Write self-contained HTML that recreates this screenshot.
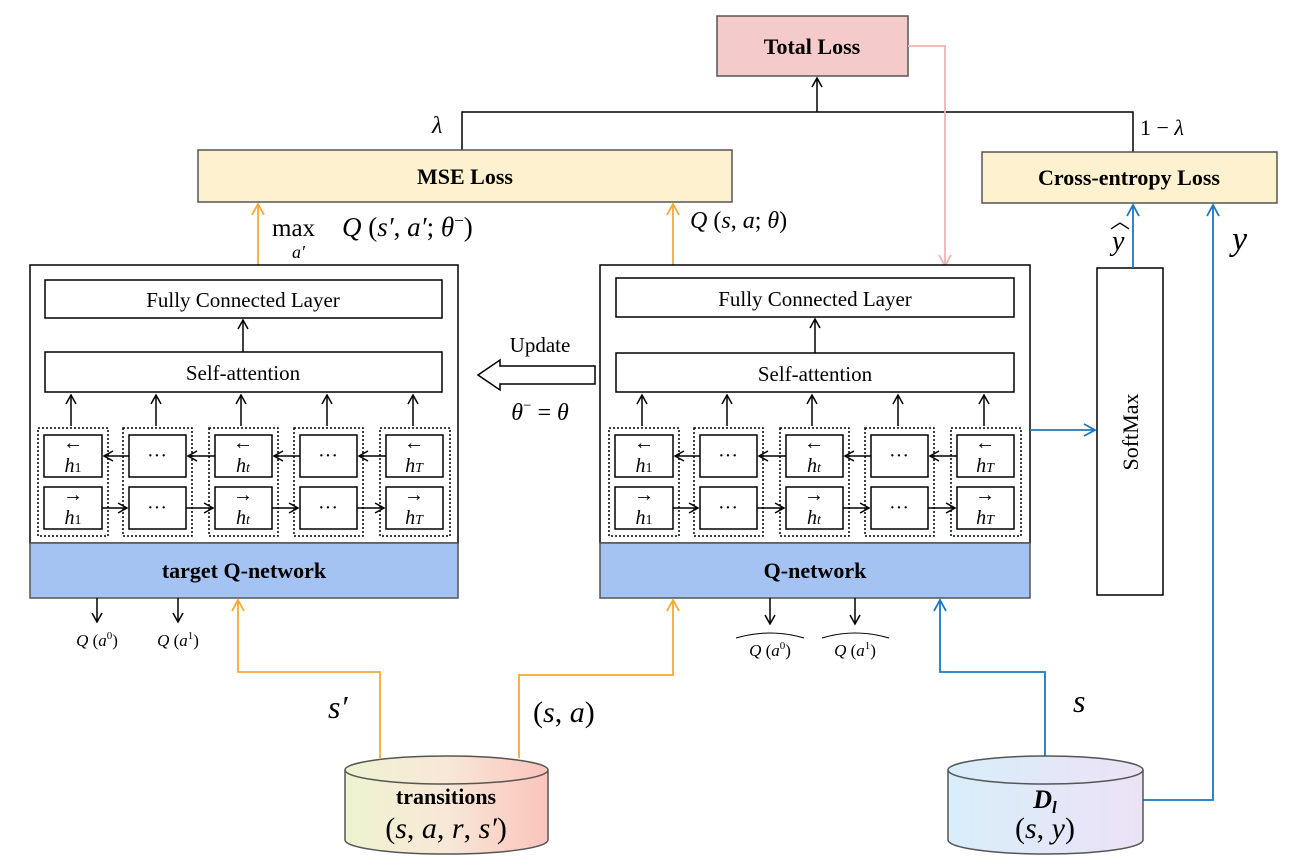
<!DOCTYPE html>
<html><head><meta charset="utf-8"><style>
body{margin:0;background:#fff}
svg{display:block;font-family:"Liberation Serif",serif}
</style></head><body>
<svg width="1294" height="867" viewBox="0 0 1294 867" xmlns="http://www.w3.org/2000/svg">
<defs>
<marker id="ak" markerWidth="12" markerHeight="12" refX="10" refY="6" orient="auto" markerUnits="userSpaceOnUse"><path d="M1,1 L10,6 L1,11" fill="none" stroke="#000" stroke-width="1.5"/></marker>
<marker id="ao" markerWidth="14" markerHeight="14" refX="12" refY="7" orient="auto" markerUnits="userSpaceOnUse"><path d="M1,1 L12,7 L1,13" fill="none" stroke="#f6a935" stroke-width="1.8"/></marker>
<marker id="ab" markerWidth="14" markerHeight="14" refX="12" refY="7" orient="auto" markerUnits="userSpaceOnUse"><path d="M1,1 L12,7 L1,13" fill="none" stroke="#1a78c2" stroke-width="1.8"/></marker>
<marker id="ap" markerWidth="14" markerHeight="14" refX="12" refY="7" orient="auto" markerUnits="userSpaceOnUse"><path d="M1,1 L12,7 L1,13" fill="none" stroke="#f0b3b3" stroke-width="1.8"/></marker>
<linearGradient id="gt" x1="0" x2="1"><stop offset="0" stop-color="#eef3d0"/><stop offset="0.5" stop-color="#f8e8d8"/><stop offset="1" stop-color="#fbc4bc"/></linearGradient>
<linearGradient id="gd" x1="0" x2="1"><stop offset="0" stop-color="#d8eefa"/><stop offset="1" stop-color="#ece2f6"/></linearGradient>
</defs>

<!-- Total loss -->
<rect x="717" y="16" width="191" height="60" fill="#f4caca" stroke="#555" stroke-width="1.5"/>
<text x="812" y="54" font-size="22" font-weight="bold" text-anchor="middle">Total Loss</text>
<line x1="817" y1="112" x2="817" y2="78" stroke="#000" stroke-width="1.5" marker-end="url(#ak)"/>
<polyline points="462,150 462,112 1133,112 1133,152" fill="none" stroke="#000" stroke-width="1.5"/>
<text x="432" y="133" font-size="24" font-style="italic">λ</text>
<text x="1140" y="135" font-size="22">1 − <tspan font-style="italic">λ</tspan></text>
<polyline points="908,46 945,46 945,266" fill="none" stroke="#f0b3b3" stroke-width="1.8" marker-end="url(#ap)"/>

<!-- loss boxes -->
<rect x="198" y="150" width="534" height="52" fill="#fdf1cf" stroke="#555" stroke-width="1.5"/>
<text x="465" y="184" font-size="22" font-weight="bold" text-anchor="middle">MSE Loss</text>
<rect x="982" y="152" width="295" height="51" fill="#fdf1cf" stroke="#555" stroke-width="1.5"/>
<text x="1129" y="185" font-size="22" font-weight="bold" text-anchor="middle">Cross-entropy Loss</text>

<!-- orange up to MSE -->
<line x1="258" y1="265" x2="258" y2="204" stroke="#f6a935" stroke-width="1.8" marker-end="url(#ao)"/>
<line x1="673" y1="265" x2="673" y2="204" stroke="#f6a935" stroke-width="1.8" marker-end="url(#ao)"/>
<text x="272" y="236" font-size="25">max</text>
<text x="292" y="258" font-size="18" font-style="italic">a′</text>
<text x="342" y="236" font-size="27"><tspan font-style="italic">Q</tspan> (<tspan font-style="italic">s′</tspan>, <tspan font-style="italic">a′</tspan>; <tspan font-style="italic">θ</tspan><tspan font-size="17" dy="-10">−</tspan><tspan dy="10">)</tspan></text>
<text x="690" y="228" font-size="24"><tspan font-style="italic">Q</tspan> (<tspan font-style="italic">s</tspan>, <tspan font-style="italic">a</tspan>; <tspan font-style="italic">θ</tspan>)</text>

<!-- networks -->
<g id="netL">
<rect x="30" y="265" width="428" height="278" fill="#fff" stroke="#000" stroke-width="1.5"/>
<rect x="30" y="543" width="428" height="55" fill="#a4c2f2" stroke="#555" stroke-width="1.5"/>
<text x="244" y="578" font-size="22" font-weight="bold" text-anchor="middle">target Q-network</text>
<rect x="45" y="280" width="397" height="38" fill="#fff" stroke="#000" stroke-width="1.5"/>
<text x="243" y="307" font-size="21" text-anchor="middle">Fully Connected Layer</text>
<line x1="243" y1="352" x2="243" y2="320" stroke="#000" stroke-width="1.5" marker-end="url(#ak)"/>
<rect x="45" y="352" width="397" height="40" fill="#fff" stroke="#000" stroke-width="1.5"/>
<text x="243" y="380" font-size="21" text-anchor="middle">Self-attention</text>
</g>
<g>
<rect x="600" y="265" width="430" height="278" fill="#fff" stroke="#000" stroke-width="1.5"/>
<rect x="600" y="543" width="430" height="55" fill="#a4c2f2" stroke="#555" stroke-width="1.5"/>
<text x="815" y="578" font-size="22" font-weight="bold" text-anchor="middle">Q-network</text>
<rect x="616" y="278" width="398" height="39" fill="#fff" stroke="#000" stroke-width="1.5"/>
<text x="815" y="306" font-size="21" text-anchor="middle">Fully Connected Layer</text>
<line x1="815" y1="353" x2="815" y2="319" stroke="#000" stroke-width="1.5" marker-end="url(#ak)"/>
<rect x="616" y="353" width="398" height="39" fill="#fff" stroke="#000" stroke-width="1.5"/>
<text x="815" y="381" font-size="21" text-anchor="middle">Self-attention</text>
</g>

<!-- cells left -->
<g stroke="#000" stroke-width="1.5" fill="#fff">
<rect x="38" y="428" width="70" height="108" stroke-dasharray="2,2" fill="none"/>
<rect x="123" y="428" width="69" height="108" stroke-dasharray="2,2" fill="none"/>
<rect x="209" y="428" width="69" height="108" stroke-dasharray="2,2" fill="none"/>
<rect x="294" y="428" width="69" height="108" stroke-dasharray="2,2" fill="none"/>
<rect x="380" y="428" width="70" height="108" stroke-dasharray="2,2" fill="none"/>
<rect x="44" y="435" width="58" height="42"/><rect x="44" y="487" width="58" height="42"/>
<rect x="129" y="435" width="57" height="42"/><rect x="129" y="487" width="57" height="42"/>
<rect x="215" y="435" width="57" height="42"/><rect x="215" y="487" width="57" height="42"/>
<rect x="300" y="435" width="57" height="42"/><rect x="300" y="487" width="57" height="42"/>
<rect x="386" y="435" width="57" height="42"/><rect x="386" y="487" width="57" height="42"/>
</g>
<g stroke="#000" stroke-width="1.5">
<line x1="129" y1="456" x2="104" y2="456" marker-end="url(#ak)"/>
<line x1="215" y1="456" x2="188" y2="456" marker-end="url(#ak)"/>
<line x1="300" y1="456" x2="274" y2="456" marker-end="url(#ak)"/>
<line x1="386" y1="456" x2="359" y2="456" marker-end="url(#ak)"/>
<line x1="102" y1="508" x2="127" y2="508" marker-end="url(#ak)"/>
<line x1="186" y1="508" x2="213" y2="508" marker-end="url(#ak)"/>
<line x1="272" y1="508" x2="298" y2="508" marker-end="url(#ak)"/>
<line x1="357" y1="508" x2="384" y2="508" marker-end="url(#ak)"/>
<line x1="71" y1="426" x2="71" y2="395" marker-end="url(#ak)"/>
<line x1="156" y1="426" x2="156" y2="395" marker-end="url(#ak)"/>
<line x1="241" y1="426" x2="241" y2="395" marker-end="url(#ak)"/>
<line x1="327" y1="426" x2="327" y2="395" marker-end="url(#ak)"/>
<line x1="413" y1="426" x2="413" y2="395" marker-end="url(#ak)"/>
</g>
<g font-size="20" text-anchor="middle">
<text x="73" y="449">←</text><text x="73" y="472" font-style="italic">h<tspan font-size="14" font-style="normal">1</tspan></text>
<text x="73" y="501">→</text><text x="73" y="524" font-style="italic">h<tspan font-size="14" font-style="normal">1</tspan></text>
<text x="157" y="462">···</text><text x="157" y="514">···</text>
<text x="243" y="449">←</text><text x="243" y="472" font-style="italic">h<tspan font-size="14">t</tspan></text>
<text x="243" y="501">→</text><text x="243" y="524" font-style="italic">h<tspan font-size="14">t</tspan></text>
<text x="328" y="462">···</text><text x="328" y="514">···</text>
<text x="414" y="449">←</text><text x="414" y="472" font-style="italic">h<tspan font-size="14">T</tspan></text>
<text x="414" y="501">→</text><text x="414" y="524" font-style="italic">h<tspan font-size="14">T</tspan></text>
</g>

<!-- cells right (shifted +571) -->
<g transform="translate(571,0)">
<g stroke="#000" stroke-width="1.5" fill="#fff">
<rect x="38" y="428" width="70" height="108" stroke-dasharray="2,2" fill="none"/>
<rect x="123" y="428" width="69" height="108" stroke-dasharray="2,2" fill="none"/>
<rect x="209" y="428" width="69" height="108" stroke-dasharray="2,2" fill="none"/>
<rect x="294" y="428" width="69" height="108" stroke-dasharray="2,2" fill="none"/>
<rect x="380" y="428" width="70" height="108" stroke-dasharray="2,2" fill="none"/>
<rect x="44" y="435" width="58" height="42"/><rect x="44" y="487" width="58" height="42"/>
<rect x="129" y="435" width="57" height="42"/><rect x="129" y="487" width="57" height="42"/>
<rect x="215" y="435" width="57" height="42"/><rect x="215" y="487" width="57" height="42"/>
<rect x="300" y="435" width="57" height="42"/><rect x="300" y="487" width="57" height="42"/>
<rect x="386" y="435" width="57" height="42"/><rect x="386" y="487" width="57" height="42"/>
</g>
<g stroke="#000" stroke-width="1.5">
<line x1="129" y1="456" x2="104" y2="456" marker-end="url(#ak)"/>
<line x1="215" y1="456" x2="188" y2="456" marker-end="url(#ak)"/>
<line x1="300" y1="456" x2="274" y2="456" marker-end="url(#ak)"/>
<line x1="386" y1="456" x2="359" y2="456" marker-end="url(#ak)"/>
<line x1="102" y1="508" x2="127" y2="508" marker-end="url(#ak)"/>
<line x1="186" y1="508" x2="213" y2="508" marker-end="url(#ak)"/>
<line x1="272" y1="508" x2="298" y2="508" marker-end="url(#ak)"/>
<line x1="357" y1="508" x2="384" y2="508" marker-end="url(#ak)"/>
<line x1="71" y1="426" x2="71" y2="395" marker-end="url(#ak)"/>
<line x1="156" y1="426" x2="156" y2="395" marker-end="url(#ak)"/>
<line x1="241" y1="426" x2="241" y2="395" marker-end="url(#ak)"/>
<line x1="327" y1="426" x2="327" y2="395" marker-end="url(#ak)"/>
<line x1="413" y1="426" x2="413" y2="395" marker-end="url(#ak)"/>
</g>
<g font-size="20" text-anchor="middle">
<text x="73" y="449">←</text><text x="73" y="472" font-style="italic">h<tspan font-size="14" font-style="normal">1</tspan></text>
<text x="73" y="501">→</text><text x="73" y="524" font-style="italic">h<tspan font-size="14" font-style="normal">1</tspan></text>
<text x="157" y="462">···</text><text x="157" y="514">···</text>
<text x="243" y="449">←</text><text x="243" y="472" font-style="italic">h<tspan font-size="14">t</tspan></text>
<text x="243" y="501">→</text><text x="243" y="524" font-style="italic">h<tspan font-size="14">t</tspan></text>
<text x="328" y="462">···</text><text x="328" y="514">···</text>
<text x="414" y="449">←</text><text x="414" y="472" font-style="italic">h<tspan font-size="14">T</tspan></text>
<text x="414" y="501">→</text><text x="414" y="524" font-style="italic">h<tspan font-size="14">T</tspan></text>
</g>
</g>

<!-- update arrow -->
<text x="540" y="352" font-size="21" text-anchor="middle">Update</text>
<path d="M595,366 L500,366 L500,360 L478,375 L500,390 L500,384 L595,384 Z" fill="#fff" stroke="#000" stroke-width="1.5"/>
<text x="540" y="420" font-size="24" text-anchor="middle"><tspan font-style="italic">θ</tspan><tspan font-size="15" dy="-10">−</tspan><tspan dy="10"> = </tspan><tspan font-style="italic">θ</tspan></text>

<!-- softmax -->
<rect x="1097" y="268" width="66" height="327" fill="#fff" stroke="#000" stroke-width="1.5"/>
<text transform="translate(1138,432) rotate(-90)" font-size="22" text-anchor="middle">SoftMax</text>
<line x1="1030" y1="430" x2="1095" y2="430" stroke="#1a78c2" stroke-width="1.8" marker-end="url(#ab)"/>
<line x1="1133" y1="268" x2="1133" y2="205" stroke="#1a78c2" stroke-width="1.8" marker-end="url(#ab)"/>
<text x="1112" y="250" font-size="28" font-style="italic">y</text>
<text x="1110" y="228" font-size="20">︿</text>
<text x="1232" y="250" font-size="34" font-style="italic">y</text>
<polyline points="1143,800 1213,800 1213,205" fill="none" stroke="#1a78c2" stroke-width="1.8" marker-end="url(#ab)"/>
<polyline points="1045,758 1045,672 940,672 940,600" fill="none" stroke="#1a78c2" stroke-width="1.8" marker-end="url(#ab)"/>
<text x="1073" y="712" font-size="32" font-style="italic">s</text>

<!-- Q outputs -->
<g stroke="#000" stroke-width="1.5">
<line x1="97" y1="598" x2="97" y2="622" marker-end="url(#ak)"/>
<line x1="178" y1="598" x2="178" y2="622" marker-end="url(#ak)"/>
<line x1="770" y1="598" x2="770" y2="624" marker-end="url(#ak)"/>
<line x1="855" y1="598" x2="855" y2="624" marker-end="url(#ak)"/>
</g>
<g font-size="17" text-anchor="middle">
<text x="97" y="646"><tspan font-style="italic">Q</tspan> (<tspan font-style="italic">a</tspan><tspan font-size="11" dy="-7">0</tspan><tspan dy="7">)</tspan></text>
<text x="178" y="646"><tspan font-style="italic">Q</tspan> (<tspan font-style="italic">a</tspan><tspan font-size="11" dy="-7">1</tspan><tspan dy="7">)</tspan></text>
<text x="770" y="656"><tspan font-style="italic">Q</tspan> (<tspan font-style="italic">a</tspan><tspan font-size="11" dy="-7">0</tspan><tspan dy="7">)</tspan></text>
<text x="855" y="656"><tspan font-style="italic">Q</tspan> (<tspan font-style="italic">a</tspan><tspan font-size="11" dy="-7">1</tspan><tspan dy="7">)</tspan></text>
</g>
<path d="M736,638 Q770,628 804,638 M822,638 Q855,628 889,638" fill="none" stroke="#000" stroke-width="1"/>

<!-- orange from transitions -->
<polyline points="380,758 380,672 238,672 238,600" fill="none" stroke="#f6a935" stroke-width="1.8" marker-end="url(#ao)"/>
<polyline points="519,758 519,675 673,675 673,600" fill="none" stroke="#f6a935" stroke-width="1.8" marker-end="url(#ao)"/>
<text x="328" y="718" font-size="32" font-style="italic">s′</text>
<text x="533" y="722" font-size="30">(<tspan font-style="italic">s</tspan>, <tspan font-style="italic">a</tspan>)</text>

<!-- cylinders -->
<path d="M345,770 L345,840 A101,14 0 0 0 548,840 L548,770" fill="url(#gt)" stroke="#555" stroke-width="1.5"/>
<ellipse cx="446.5" cy="770" rx="101.5" ry="14" fill="url(#gt)" stroke="#555" stroke-width="1.5"/>
<text x="446" y="804" font-size="22" font-weight="bold" text-anchor="middle">transitions</text>
<text x="446" y="838" font-size="30" text-anchor="middle">(<tspan font-style="italic">s</tspan>, <tspan font-style="italic">a</tspan>, <tspan font-style="italic">r</tspan>, <tspan font-style="italic">s′</tspan>)</text>
<path d="M948,770 L948,840 A97.5,14 0 0 0 1143,840 L1143,770" fill="url(#gd)" stroke="#555" stroke-width="1.5"/>
<ellipse cx="1045.5" cy="770" rx="97.5" ry="14" fill="url(#gd)" stroke="#555" stroke-width="1.5"/>
<text x="1045" y="808" font-size="26" font-weight="bold" font-style="italic" text-anchor="middle">D<tspan font-size="17" dy="5">l</tspan></text>
<text x="1045" y="838" font-size="30" text-anchor="middle">(<tspan font-style="italic">s</tspan>, <tspan font-style="italic">y</tspan>)</text>
</svg>
</body></html>
